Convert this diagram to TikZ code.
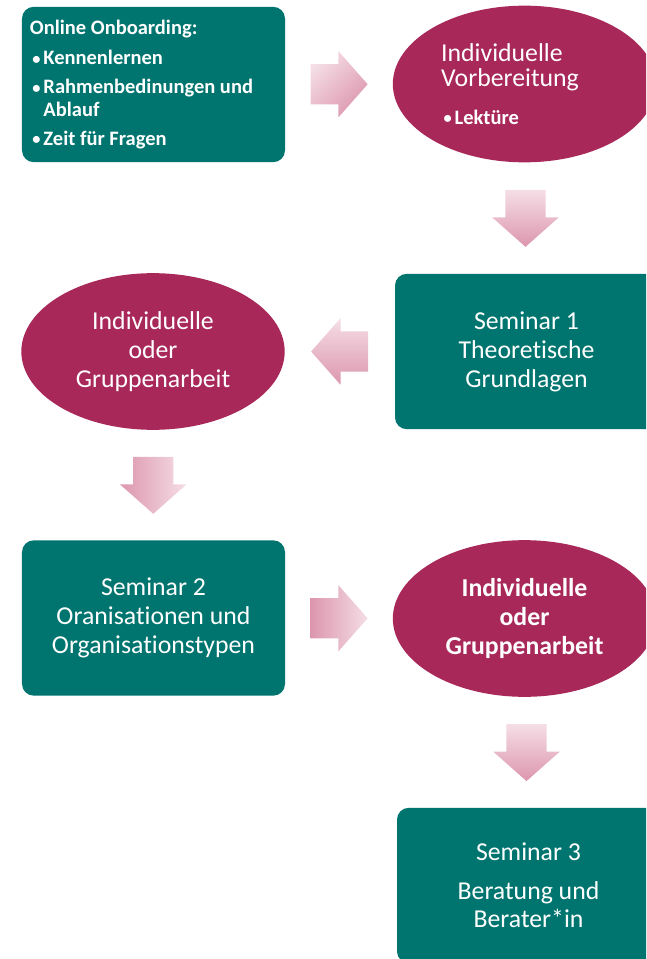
\documentclass[tikz,border=0pt]{standalone}
\usepackage{fontspec}
\setmainfont{Carlito}[Ligatures=NoCommon]
\usetikzlibrary{shapes.geometric,shapes.arrows,calc}

\definecolor{tealbox}{RGB}{0,117,111}
\definecolor{berry}{RGB}{168,40,90}
\definecolor{pinklight}{RGB}{245,222,230}
\definecolor{pinkdark}{RGB}{220,150,173}

\newcommand{\blt}{\hspace*{2pt}\makebox[9.5pt][l]{\raisebox{0.5pt}{\scalebox{0.8}{\textbullet}}}}

\begin{document}
\begin{tikzpicture}[x=0.03cm, y=-0.03cm,
    box/.style={rectangle, fill=tealbox, text=white, minimum width=7.89cm, minimum height=4.66cm, rounded corners=10pt, align=flush center, inner sep=0pt, font=\fontsize{22}{24.7}\selectfont},
    blob/.style={ellipse, fill=berry, text=white, minimum width=7.9cm, minimum height=4.7cm, align=flush center, inner sep=0pt, font=\fontsize{22}{24.7}\selectfont},
    blockarrow/.style={single arrow, draw=none, minimum width=0pt, minimum height=1.71cm, single arrow head extend=0.39cm, single arrow tip angle=97, anchor=tail},
    rarrow/.style={blockarrow, inner xsep=0pt, inner ysep=0.6cm},
    larrow/.style={blockarrow, inner xsep=0pt, inner ysep=0.6cm, shape border rotate=180},
    darrow/.style={blockarrow, inner xsep=0.6cm, inner ysep=0pt, shape border rotate=270}
]
\useasboundingbox (0,0) rectangle (646,959);
\clip (0,0) rectangle (646,959);

% Row 1
\node[box, text width=7.41cm, align=flush left, font=\fontsize{17.5}{19.6}\selectfont\bfseries] (onb) at (153.5,84.5)
    {Online Onboarding:\\[6.5pt]
     \blt Kennenlernen\\[5pt]
     \blt Rahmenbedinungen und\\
     \hspace*{11.5pt}Ablauf\\[5pt]
     \blt Zeit für Fragen};
\node[blob, text width=5.0cm, align=flush left, font=\fontsize{22}{21.5}\selectfont] (vorb) at (524.5,84)
    {Individuelle\\Vorbereitung\\[11pt]
     {\fontsize{17.5}{19}\selectfont\bfseries\blt Lektüre}};

% Row 2
\node[box] (sem1) at (526.5,351.5) {Seminar 1\\Theoretische\\Grundlagen};
\node[blob] (grp1) at (153,351.5) {Individuelle\\oder\\Gruppenarbeit};

% Row 3
\node[box] (sem2) at (153.5,618) {Seminar 2\\Oranisationen und\\Organisationstypen};
\node[blob, font=\fontsize{22}{24.7}\selectfont\bfseries] (grp2) at (524.5,618.5) {Individuelle\\oder\\Gruppenarbeit};

% Row 4
\node[box, font=\fontsize{22}{24}\selectfont] (sem3) at (528.5,885.5) {Seminar 3\\[9pt]Beratung und\\Berater*in};

% Arrows
\node[rarrow, top color=pinklight, bottom color=pinkdark, shading angle=45] (a1) at ($(onb.east)!0.5!(vorb.west)+(-28.5,0)$) {};
\node[darrow, top color=pinklight, bottom color=pinkdark] (a2) at ($(vorb.south)!0.5!(sem1.north)+(0,-28.5)$) {};
\node[larrow, top color=pinklight, bottom color=pinkdark] (a3) at ($(sem1.west)!0.5!(grp1.east)+(28.5,0)$) {};
\node[darrow, left color=pinkdark, right color=pinklight] (a4) at ($(grp1.south)!0.5!(sem2.north)+(0,-28.5)$) {};
\node[rarrow, left color=pinkdark, right color=pinklight] (a5) at ($(sem2.east)!0.5!(grp2.west)+(-28.5,0)$) {};
\node[darrow, top color=pinklight, bottom color=pinkdark] (a6) at ($(grp2.south)!0.5!(sem3.north)+(0,-28.5)$) {};

\end{tikzpicture}
\end{document}
